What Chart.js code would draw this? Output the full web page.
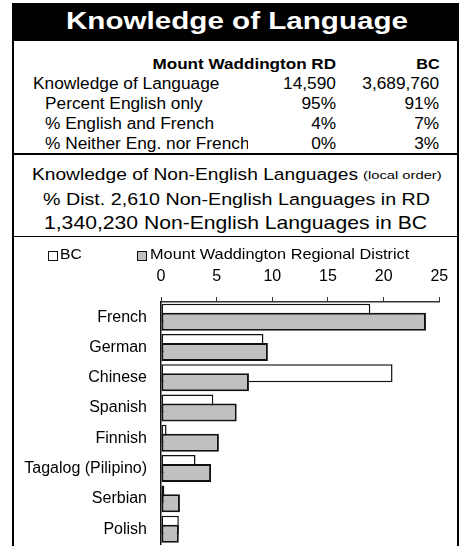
<!DOCTYPE html>
<html>
<head>
<meta charset="utf-8">
<script src="https://cdn.jsdelivr.net/npm/chart.js@4"></script>
<style>
  body { margin: 0; width: 460px; height: 546px; overflow: hidden; background: #fff; position: relative;
         font-family: "Liberation Sans", Arial, sans-serif; color: #000; }
  .box { position: absolute; background: #000; }
  .txt { position: absolute; white-space: nowrap; line-height: 1; }
  .key { position: absolute; width: 8px; height: 8px; border: 1px solid #111; }
  #wrap { position: absolute; left: 14px; top: 237px; }
  canvas { display: block; }
</style>
</head>
<body>
<div class="box" style="left:12px;top:3px;width:447px;height:38px"></div>
<div class="box" style="left:12px;top:3px;width:2px;height:543px"></div>
<div class="box" style="left:457px;top:3px;width:2px;height:543px"></div>
<div class="box" style="left:12px;top:152.5px;width:447px;height:2px"></div>
<div class="box" style="left:12px;top:235.5px;width:447px;height:1.5px"></div>
<div id="clip" style="position:absolute;left:0;top:0;width:248px;height:546px;overflow:hidden"></div>
<div class="key" style="left:48px;top:250.5px;background:#fff"></div>
<div class="key" style="left:137px;top:250.5px;background:#c0c0c0"></div>
<div id="wrap"><canvas id="chart" width="443" height="309"></canvas></div>
<script>
const tableRows = ['Knowledge of Language', 'Percent English only', '% English and French', '% Neither Eng. nor French'];
const rdTable = ['14,590', '95%', '4%', '0%'];
const bcTable = ['3,689,760', '91%', '7%', '3%'];

const languages = ['French', 'German', 'Chinese', 'Spanish', 'Finnish', 'Tagalog (Pilipino)', 'Serbian', 'Polish'];
const bcShare = [18.8, 9.2, 20.8, 4.7, 0.5, 3.1, 0.3, 1.6];
const rdShare = [23.8, 9.6, 7.9, 6.8, 5.2, 4.5, 1.7, 1.6];
const xTicks = [0, 5, 10, 15, 20, 25];

// text placed by baseline; stretched a little to match the wide header lettering
function put(text, o, parent) {
    const el = document.createElement('div');
    el.className = 'txt';
    el.textContent = text;
    el.style.fontSize = o.size + 'px';
    el.style.fontWeight = o.bold ? 'bold' : 'normal';
    if (o.color) el.style.color = o.color;
    el.style.top = (o.base - 0.8465 * o.size) + 'px';
    (parent || document.body).appendChild(el);
    const w = el.getBoundingClientRect().width;
    let sx = o.sx || 1, left, origin;
    if (o.x1 !== undefined) {
        sx = (o.x1 - o.x0) / w; left = o.x0; origin = 'left';
    } else if (o.right !== undefined) {
        left = o.right - w; origin = 'right';
    } else {
        left = o.x0; origin = 'left';
    }
    el.style.left = left + 'px';
    el.style.transformOrigin = origin + ' center';
    el.style.transform = 'scaleX(' + sx + ')';
    return el;
}

put('Knowledge of Language', { x0: 66, x1: 408, base: 30, size: 24.5, bold: true, color: '#fff' });
put('Mount Waddington RD', { right: 336, base: 68.3, size: 15, bold: true, sx: 1.14 });
put('BC', { right: 439.3, base: 68.3, size: 15, bold: true, sx: 1.08 });

const rowBase = [89.3, 109.3, 129.3, 149.3];
tableRows.forEach((label, i) => {
    const parent = i === 3 ? document.getElementById('clip') : null;
    put(label, { x0: i === 0 ? 33 : 45, base: rowBase[i], size: 16, sx: 1.08 }, parent);
    put(rdTable[i], { right: 336, base: rowBase[i], size: 16, sx: 1.08 });
    put(bcTable[i], { right: 439.3, base: rowBase[i], size: 16, sx: 1.08 });
});

put('Knowledge of Non-English Languages', { x0: 32, x1: 358, base: 180, size: 16.3 });
put('(local order)', { x0: 363, x1: 441.7, base: 180, size: 11.5 });
put('% Dist. 2,610 Non-English Languages in RD', { x0: 43, x1: 430, base: 205.7, size: 17.2 });
put('1,340,230 Non-English Languages in BC', { x0: 44, x1: 427, base: 230, size: 18.6 });

put('BC', { x0: 60, x1: 81.7, base: 259.5, size: 14.5 });
put('Mount Waddington Regional District', { x0: 150, x1: 409.3, base: 259.5, size: 14.5 });

// grey bars sit over the white ones
const bcUnderRd = {
    id: 'bcUnderRd',
    beforeDatasetsDraw(chart) {
        chart.getSortedVisibleDatasetMetas().forEach(m => m.controller.draw());
        return false;
    }
};

Chart.defaults.font.family = '"Liberation Sans", Arial, sans-serif';
Chart.defaults.color = '#000';

new Chart(document.getElementById('chart'), {
    type: 'bar',
    data: {
        labels: languages,
        datasets: [
            { label: 'BC', data: bcShare, backgroundColor: '#ffffff', borderColor: '#111', borderWidth: 1.5, borderSkipped: false },
            { label: 'Mount Waddington Regional District', data: rdShare, backgroundColor: '#c0c0c0', borderColor: '#111', borderWidth: 2, borderSkipped: false }
        ]
    },
    options: {
        indexAxis: 'y',
        responsive: false,
        animation: false,
        datasets: { bar: { categoryPercentage: 0.594, barPercentage: 2 } },
        layout: { padding: { left: 0, right: 17.7, top: 19, bottom: 1.7 } },
        plugins: { legend: { display: false }, tooltip: { enabled: false } },
        scales: {
            x: {
                position: 'top',
                min: 0,
                max: 25,
                afterBuildTicks: s => { s.ticks = xTicks.map(v => ({ value: v })); },
                afterFit: s => { s.height = 46; s.paddingLeft = 0; s.paddingRight = 0; },
                grid: { drawOnChartArea: false, tickLength: 5, color: '#333', lineWidth: 1 },
                border: { color: '#333', width: 1.5 },
                ticks: { font: { size: 16 }, padding: 11 }
            },
            y: {
                grid: { display: false, drawTicks: false },
                border: { color: '#111', width: 1.5 },
                ticks: { font: { size: 16 }, padding: 14 },
                afterFit: s => { s.width = 147; s.paddingTop = 0; s.paddingBottom = 0; }
            }
        }
    },
    plugins: [bcUnderRd]
});
</script>
</body>
</html>
